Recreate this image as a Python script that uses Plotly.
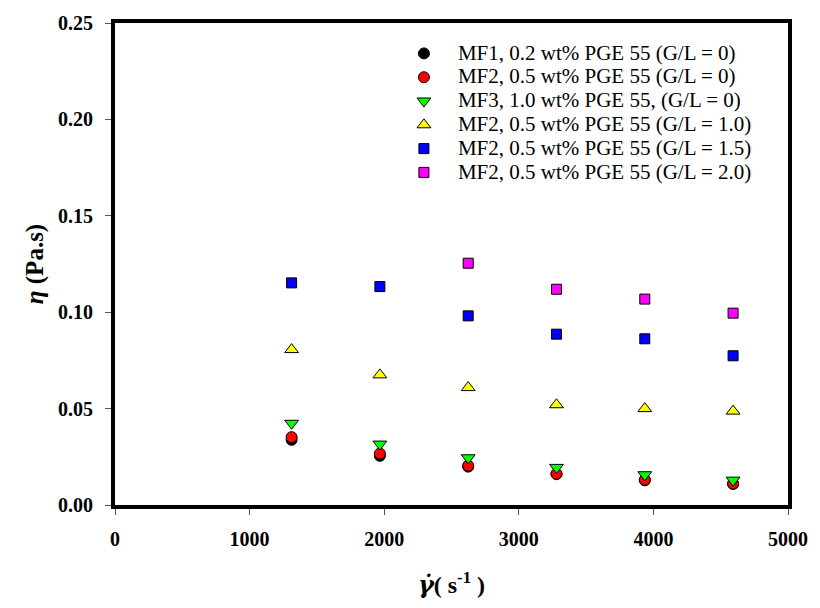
import plotly.graph_objects as go

shear_rate = [1312, 1968, 2624, 3280, 3936, 4592]
shear_rate_gl2 = [2624, 3280, 3936, 4592]

mf1_gl0 = [0.0338, 0.0255, 0.0199, 0.0160, 0.0128, 0.0109]
mf2_gl0 = [0.0352, 0.0267, 0.0204, 0.0162, 0.0131, 0.0111]
mf3_gl0 = [0.0424, 0.0316, 0.0245, 0.0195, 0.0157, 0.0129]
mf2_gl10 = [0.0806, 0.0675, 0.0609, 0.0520, 0.0500, 0.0487]
mf2_gl15 = [0.1152, 0.1133, 0.0981, 0.0886, 0.0862, 0.0774]
mf2_gl20 = [0.1254, 0.1119, 0.1068, 0.0995]

names = [
    "MF1, 0.2 wt% PGE 55 (G/L = 0)",
    "MF2, 0.5 wt% PGE 55 (G/L = 0)",
    "MF3, 1.0 wt% PGE 55, (G/L = 0)",
    "MF2, 0.5 wt% PGE 55 (G/L = 1.0)",
    "MF2, 0.5 wt% PGE 55 (G/L = 1.5)",
    "MF2, 0.5 wt% PGE 55 (G/L = 2.0)",
]

series = [
    (shear_rate, mf1_gl0, "circle", "#000000", 11),
    (shear_rate, mf2_gl0, "circle", "#ff0000", 11),
    (shear_rate, mf3_gl0, "triangle-down", "#00ff00", 12),
    (shear_rate, mf2_gl10, "triangle-up", "#ffff00", 12),
    (shear_rate, mf2_gl15, "square", "#0000ff", 10),
    (shear_rate_gl2, mf2_gl20, "square", "#ff00ff", 10),
]

FONT = "Liberation Serif, Times New Roman, serif"

fig = go.Figure()
for (xs, ys, sym, col, sz), nm in zip(series, names):
    fig.add_trace(go.Scatter(
        x=xs, y=ys, mode="markers",
        name='<span style="font-size:21px">' + nm + '</span>',
        marker=dict(symbol=sym, color=col, size=sz,
                    line=dict(color="#000000", width=1)),
    ))

fig.update_layout(
    width=820, height=608,
    margin=dict(l=115, r=27, t=16, b=103),
    paper_bgcolor="white", plot_bgcolor="white",
    font=dict(family=FONT, color="black"),
    showlegend=True,
    legend=dict(
        x=0.4085, y=0.972, xanchor="left", yanchor="top",
        bgcolor="rgba(0,0,0,0)", borderwidth=0,
        font=dict(family=FONT, size=16, color="black"),
        tracegroupgap=0, itemsizing="trace", itemwidth=58,
    ),
)

fig.update_xaxes(
    range=[0, 5000], tickvals=[0, 1000, 2000, 3000, 4000, 5000],
    showgrid=False, zeroline=False,
    showline=True, linewidth=4, linecolor="black", mirror=True,
    ticks="outside", ticklen=6, tickwidth=1, tickcolor="#555555",
    ticklabelstandoff=7,
    tickfont=dict(family=FONT, size=20, color="black", weight="bold"),
    title=dict(text='<b><span style="font-family:DejaVu Serif"><i>γ̇</i></span>( s<sup>-1</sup> )</b>',
               font=dict(family=FONT, size=24, color="black"), standoff=28),
)
fig.update_yaxes(
    range=[0, 0.25], tickvals=[0, 0.05, 0.10, 0.15, 0.20, 0.25],
    tickformat=".2f",
    showgrid=False, zeroline=False,
    showline=True, linewidth=4, linecolor="black", mirror=True,
    ticks="outside", ticklen=6, tickwidth=1, tickcolor="#555555",
    ticklabelstandoff=8,
    tickfont=dict(family=FONT, size=20, color="black", weight="bold"),
    title=dict(text="<b><i>η</i> (Pa.s)</b>",
               font=dict(family=FONT, size=25, color="black"), standoff=8),
)

fig.write_html("out.html")
